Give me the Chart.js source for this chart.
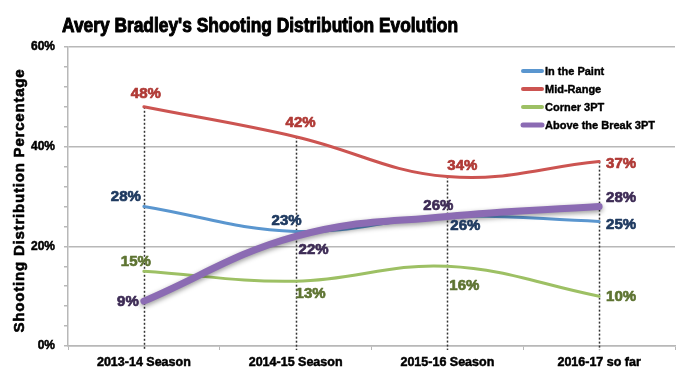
<!DOCTYPE html>
<html>
<head>
<meta charset="utf-8">
<script src="https://cdn.jsdelivr.net/npm/chart.js@4/dist/chart.umd.min.js"></script>
<style>
  html, body { margin: 0; padding: 0; background: #fff; }
</style>
</head>
<body>
<canvas id="chart" width="683" height="373"></canvas>
<script>
// data
const seasons = ['2013-14 Season', '2014-15 Season', '2015-16 Season', '2016-17 so far'];
const inThePaint = [28, 23, 26, 25];
const midRange = [48, 42, 34, 37];
const corner3 = [15, 13, 16, 10];
const aboveBreak3 = [9, 22, 26, 28];
const seriesNames = ['In the Paint', 'Mid-Range', 'Corner 3PT', 'Above the Break 3PT'];

const FONT = '"Liberation Sans", Arial, sans-serif';
const GRID = '#b8b8b8';

// line colour / label colour per series
const lineColors = ['#5a96cf', '#cc5451', '#9dc064', '#8b6bb3'];
const labelColors = ['#1f3a60', '#b03a36', '#5e7432', '#3d2b55'];

// where each value label sits relative to its point (px)
const labelOffsets = [
  [[-18, -10], [-9, -11], [18, 9], [22, 3]],
  [[2, -13], [5, -14], [15, -11], [22, 2]],
  [[-8, -9], [15, 13], [17, 20], [22, 1]],
  [[-16, 1], [18, 13], [-9, -11], [22, -9]]
];

// heavy text: fill plus a thin stroke of the same colour
function heavyText(ctx, text, x, y, color, stroke, maxW) {
  ctx.fillStyle = color;
  ctx.strokeStyle = color;
  ctx.lineWidth = stroke;
  ctx.lineJoin = 'round';
  if (maxW) {
    ctx.fillText(text, x, y, maxW);
    ctx.strokeText(text, x, y, maxW);
  } else {
    ctx.fillText(text, x, y);
    ctx.strokeText(text, x, y);
  }
}

const extrasPlugin = {
  id: 'extras',
  beforeDatasetsDraw(chart) {
    // dotted drop lines from the highest point to the axis
    const { ctx, scales: { x, y } } = chart;
    ctx.save();
    ctx.strokeStyle = '#333';
    ctx.lineWidth = 1.5;
    ctx.setLineDash([2, 2]);
    seasons.forEach((s, i) => {
      const top = Math.max(inThePaint[i], midRange[i], corner3[i], aboveBreak3[i]);
      const px = Math.round(x.getPixelForValue(i)) + 0.5;
      ctx.beginPath();
      ctx.moveTo(px, y.getPixelForValue(top));
      ctx.lineTo(px, y.bottom + 4);
      ctx.stroke();
    });
    ctx.restore();
  },
  beforeDatasetDraw(chart, args) {
    if (args.index === 3) {
      const ctx = chart.ctx;
      ctx.save();
      ctx.shadowColor = 'rgba(0,0,0,0.4)';
      ctx.shadowBlur = 5;
      ctx.shadowOffsetY = 2;
    }
  },
  afterDatasetDraw(chart, args) {
    if (args.index === 3) chart.ctx.restore();
  },
  afterDatasetsDraw(chart) {
    const { ctx } = chart;
    ctx.save();
    ctx.font = 'bold 15px ' + FONT;
    ctx.textAlign = 'center';
    ctx.textBaseline = 'middle';
    chart.data.datasets.forEach((ds, di) => {
      const meta = chart.getDatasetMeta(di);
      meta.data.forEach((pt, i) => {
        const off = labelOffsets[di][i];
        heavyText(ctx, ds.data[i] + '%', pt.x + off[0], pt.y + off[1], labelColors[di], 0.7);
      });
    });
    ctx.restore();
  },
  afterDraw(chart) {
    const { ctx, chartArea } = chart;
    ctx.save();
    // title
    ctx.font = 'bold 20px ' + FONT;
    ctx.textAlign = 'left';
    ctx.textBaseline = 'alphabetic';
    heavyText(ctx, "Avery Bradley's Shooting Distribution Evolution", 62, 32, '#000', 1, 396);

    // y axis title
    ctx.save();
    ctx.translate(20, (chartArea.top + chartArea.bottom) / 2 + 4);
    ctx.rotate(-Math.PI / 2);
    ctx.font = 'bold 15px ' + FONT;
    ctx.letterSpacing = '0.8px';
    ctx.textAlign = 'center';
    ctx.textBaseline = 'middle';
    heavyText(ctx, 'Shooting Distribution Percentage', 0, 0, '#000', 0.6);
    ctx.restore();

    // legend
    ctx.font = 'bold 11px ' + FONT;
    ctx.textAlign = 'left';
    ctx.textBaseline = 'middle';
    chart.data.datasets.forEach((ds, i) => {
      const ly = 71 + i * 18;
      ctx.strokeStyle = ds.borderColor;
      ctx.lineWidth = i === 3 ? 5 : 4;
      ctx.lineCap = 'round';
      ctx.beginPath();
      ctx.moveTo(523, ly);
      ctx.lineTo(542, ly);
      ctx.stroke();
      ctx.lineCap = 'butt';
      heavyText(ctx, ds.label, 545, ly + 1, '#000', 0.4);
    });
    ctx.restore();
  }
};

const series = [inThePaint, midRange, corner3, aboveBreak3];

new Chart(document.getElementById('chart'), {
  type: 'line',
  data: {
    labels: seasons,
    datasets: series.map((vals, i) => ({
      label: seriesNames[i],
      data: vals,
      borderColor: lineColors[i],
      backgroundColor: lineColors[i],
      borderWidth: i === 3 ? 7 : 3,
      borderCapStyle: 'round',
      pointRadius: 0,
      tension: 0.4,
      fill: false,
      order: i === 3 ? 0 : 1
    }))
  },
  options: {
    responsive: false,
    animation: false,
    layout: { padding: { top: 47, right: 8, left: 0, bottom: 0 } },
    plugins: {
      legend: { display: false },
      title: { display: false },
      tooltip: { enabled: false }
    },
    scales: {
      x: {
        offset: true,
        afterFit: s => { s.height = 27; },
        grid: { drawOnChartArea: false, drawTicks: true, tickLength: 4, color: GRID, offset: true },
        border: { color: GRID, width: 1.5 },
        ticks: {
          color: '#000', padding: 5,
          textStrokeColor: '#000', textStrokeWidth: 0.5,
          font: { family: FONT, size: 12.5, weight: 'bold' }
        }
      },
      y: {
        min: 0,
        max: 60,
        afterFit: s => { s.width = 68; },
        ticks: {
          stepSize: 4,
          padding: 9,
          color: '#000',
          textStrokeColor: '#000', textStrokeWidth: 0.5,
          font: { family: FONT, size: 12, weight: 'bold' },
          callback: v => (v % 20 === 0 ? v + '%' : '')
        },
        grid: {
          color: ctx => (ctx.tick && ctx.tick.value % 20 === 0 ? GRID : 'rgba(0,0,0,0)'),
          tickColor: GRID,
          tickLength: 4,
          lineWidth: 1.5
        },
        border: { color: GRID, width: 1.5 }
      }
    }
  },
  plugins: [extrasPlugin]
});
</script>
</body>
</html>
